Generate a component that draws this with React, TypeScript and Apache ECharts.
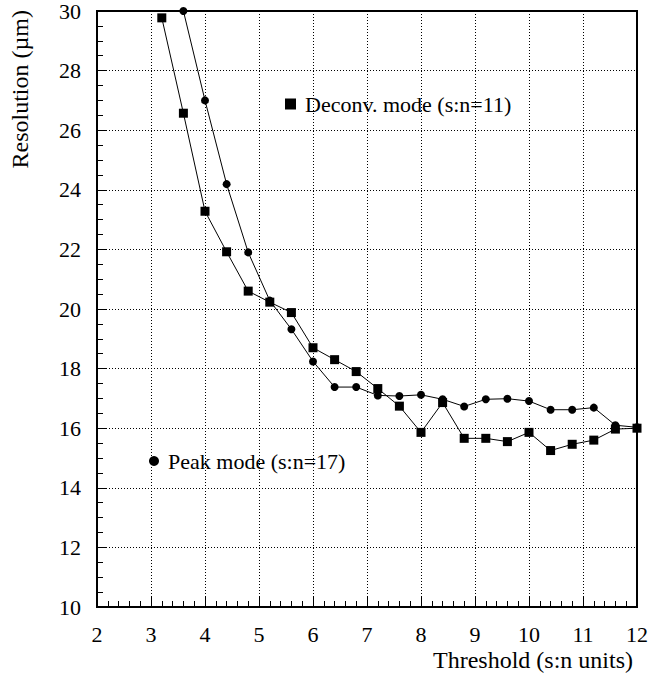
import React, { useEffect, useRef } from "react";
import * as echarts from "echarts";

const thresholds = [3.2, 3.6, 4.0, 4.4, 4.8, 5.2, 5.6, 6.0, 6.4, 6.8, 7.2, 7.6, 8.0, 8.4, 8.8, 9.2, 9.6, 10.0, 10.4, 10.8, 11.2, 11.6, 12.0];
const deconvRes = [29.77, 26.57, 23.28, 21.92, 20.6, 20.23, 19.88, 18.7, 18.3, 17.9, 17.33, 16.74, 15.86, 16.86, 15.66, 15.66, 15.55, 15.86, 15.25, 15.46, 15.6, 15.97, 16.0];

const peakThresholds = [3.6, 4.0, 4.4, 4.8, 5.2, 5.6, 6.0, 6.4, 6.8, 7.2, 7.6, 8.0, 8.4, 8.8, 9.2, 9.6, 10.0, 10.4, 10.8, 11.2, 11.6, 12.0];
const peakRes = [30.0, 27.0, 24.19, 21.9, 20.28, 19.32, 18.24, 17.38, 17.38, 17.1, 17.08, 17.12, 16.97, 16.73, 16.97, 16.99, 16.91, 16.62, 16.62, 16.69, 16.1, 16.03];

const deconvName = "Deconv. mode (s:n=11)";
const peakName = "Peak mode (s:n=17)";
const xTitle = "Threshold (s:n units)";
const yTitle = "Resolution (µm)";

const FONT = "Liberation Serif";

export default function App() {
  const ref = useRef<HTMLDivElement>(null);

  useEffect(() => {
    if (!ref.current) return;
    const chart = echarts.init(ref.current, null, { renderer: "svg" });

    const axisCommon = {
      axisLine: { show: true, lineStyle: { color: "#000", width: 2 } },
      axisTick: { show: true, inside: true, length: 10, lineStyle: { color: "#000", width: 1 } },
      minorTick: { show: true, length: 6, lineStyle: { color: "#000", width: 1 } },
      splitLine: { show: true, lineStyle: { color: "#000", width: 1, type: [1, 2] as any } },
      minorSplitLine: { show: false },
      axisLabel: { color: "#000", fontFamily: FONT, fontSize: 22, margin: 16 },
    };

    chart.setOption({
      animation: false,
      backgroundColor: "#fff",
      grid: {
        left: 97,
        right: 13,
        top: 10,
        bottom: 68,
        show: true,
        borderColor: "#000",
        borderWidth: 2,
        containLabel: false,
      },
      xAxis: {
        type: "value",
        min: 2,
        max: 12,
        interval: 1,
        ...axisCommon,
        minorTick: { ...axisCommon.minorTick, splitNumber: 5 },
      },
      yAxis: {
        type: "value",
        min: 10,
        max: 30,
        interval: 2,
        ...axisCommon,
        minorTick: { ...axisCommon.minorTick, splitNumber: 4 },
      },
      legend: [
        {
          data: [{ name: deconvName, icon: "rect" }],
          left: 280,
          top: 88,
          itemWidth: 11,
          itemHeight: 11,
          textStyle: { color: "#000", fontFamily: FONT, fontSize: 22, padding: [0, 0, 0, 4] },
          selectedMode: false,
        },
        {
          data: [{ name: peakName, icon: "circle" }],
          left: 144,
          top: 445,
          itemWidth: 10,
          itemHeight: 10,
          textStyle: { color: "#000", fontFamily: FONT, fontSize: 22, padding: [0, 0, 0, 4] },
          selectedMode: false,
        },
      ],
      series: [
        {
          name: deconvName,
          type: "line",
          data: thresholds.map((t, i) => [t, deconvRes[i]]),
          symbol: "rect",
          symbolSize: 9,
          itemStyle: { color: "#000" },
          lineStyle: { color: "#000", width: 1 },
          clip: true,
          z: 3,
        },
        {
          name: peakName,
          type: "line",
          data: peakThresholds.map((t, i) => [t, peakRes[i]]),
          symbol: "circle",
          symbolSize: 8,
          itemStyle: { color: "#000" },
          lineStyle: { color: "#000", width: 1 },
          clip: true,
          z: 3,
        },
      ],
      graphic: [
        {
          type: "text",
          x: 633,
          y: 660,
          style: {
            text: xTitle,
            fill: "#000",
            fontFamily: FONT,
            fontSize: 24,
            textAlign: "right",
            textVerticalAlign: "middle",
          },
        },
        {
          type: "text",
          x: 20,
          y: 10,
          rotation: Math.PI / 2,
          style: {
            text: yTitle,
            fill: "#000",
            fontFamily: FONT,
            fontSize: 24,
            textAlign: "right",
            textVerticalAlign: "middle",
          },
        },
      ],
    });

    return () => chart.dispose();
  }, []);

  return <div ref={ref} style={{ width: 651, height: 675, position: "absolute", left: 0, top: 0 }} />;
}
